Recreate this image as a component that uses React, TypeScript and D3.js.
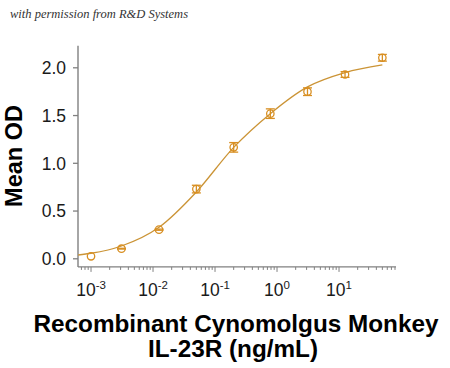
import React from "react";
import * as d3 from "d3";

// Measured data (Mean OD vs concentration, ng/mL)
const concentrations = [0.001, 0.0031, 0.0125, 0.05, 0.2, 0.78, 3.1, 12.5, 50];
const meanOD = [0.026, 0.106, 0.305, 0.73, 1.167, 1.52, 1.75, 1.93, 2.105];
const errors = [0, 0.004, 0.006, 0.04, 0.05, 0.05, 0.04, 0.03, 0.035];

// Fitted curve
const fitX = [0.00062, 0.001, 0.0031, 0.0125, 0.05, 0.2, 0.78, 3.1, 12.5, 50];
const fitY = [0.04, 0.058, 0.134, 0.33, 0.7, 1.167, 1.52, 1.8, 1.95, 2.03];

const yTicks = [0, 0.5, 1, 1.5, 2];
const yTickLabels = ["0.0", "0.5", "1.0", "1.5", "2.0"];
const xMajorExps = [-3, -2, -1, 0, 1];

const W = 450;
const H = 368;
const markerColor = "#D88F22";
const lineColor = "#CB9436";
const axisColor = "#808080";

export default function App() {
  const x = d3.scaleLog().domain([Math.pow(10, -3.21), Math.pow(10, 1.919)]).range([78, 396]);
  const y = d3.scaleLinear().domain([0, 2]).range([258.8, 67.8]);
  const axisY = y(-0.085);
  const axisTop = y(2.23);

  const line = d3
    .line<number>()
    .x((_, i) => x(fitX[i]))
    .y((d) => y(d))
    .curve(d3.curveMonotoneX);

  const [d0, d1] = x.domain();
  const minor: { v: number; major: boolean }[] = [];
  for (let e = -4; e <= 2; e++) {
    for (let m = 1; m <= 9; m++) {
      const v = m * Math.pow(10, e);
      if (v >= d0 && v <= d1) minor.push({ v, major: m === 1 });
    }
  }

  const font = "'Liberation Sans', Arial, sans-serif";

  return (
    <svg
      width={W}
      height={H}
      style={{ position: "absolute", left: 0, top: 0, background: "#fff" }}
    >
      <text
        x={10}
        y={18}
        fontFamily="'Liberation Serif', serif"
        fontStyle="italic"
        fontSize={12.5}
        fill="#333"
      >
        with permission from R&amp;D Systems
      </text>

      {/* Y axis */}
      <line x1={78} x2={78} y1={axisTop} y2={axisY} stroke={axisColor} strokeWidth={1.4} />
      {yTicks.map((t, i) => (
        <g key={t}>
          <line x1={73} x2={78} y1={y(t)} y2={y(t)} stroke={axisColor} strokeWidth={1.3} />
          <text
            x={66}
            y={y(t)}
            dy="0.36em"
            textAnchor="end"
            fontFamily={font}
            fontSize={17.5}
            fill="#1a1a1a"
          >
            {yTickLabels[i]}
          </text>
        </g>
      ))}

      {/* X axis */}
      <line x1={78} x2={396} y1={axisY} y2={axisY} stroke={axisColor} strokeWidth={1.4} />
      {minor.map((t, i) => (
        <line
          key={i}
          x1={x(t.v)}
          x2={x(t.v)}
          y1={axisY}
          y2={axisY + (t.major ? 5 : 3)}
          stroke={axisColor}
          strokeWidth={1}
        />
      ))}
      {xMajorExps.map((e) => (
        <text
          key={e}
          x={x(Math.pow(10, e))}
          y={296}
          textAnchor="middle"
          fontFamily={font}
          fontSize={17.5}
          fill="#1a1a1a"
        >
          10
          <tspan fontSize={11.5} dy={-7}>
            {e}
          </tspan>
        </text>
      ))}

      {/* Axis titles */}
      <text
        transform={`translate(22,156) rotate(-90)`}
        textAnchor="middle"
        fontFamily={font}
        fontWeight="bold"
        fontSize={23.5}
        fill="#000"
      >
        Mean OD
      </text>
      <text
        x={236}
        y={332}
        textAnchor="middle"
        fontFamily={font}
        fontWeight="bold"
        fontSize={24.3}
        fill="#000"
      >
        Recombinant Cynomolgus Monkey
      </text>
      <text
        x={233}
        y={357}
        textAnchor="middle"
        fontFamily={font}
        fontWeight="bold"
        fontSize={24.3}
        fill="#000"
      >
        IL-23R (ng/mL)
      </text>

      {/* Fit curve */}
      <path d={line(fitY) || ""} fill="none" stroke={lineColor} strokeWidth={1.3} />

      {/* Error bars and markers */}
      {concentrations.map((c, i) => {
        const cx = x(c);
        const cy = y(meanOD[i]);
        const top = y(meanOD[i] + errors[i]);
        const bot = y(meanOD[i] - errors[i]);
        return (
          <g key={i} stroke={markerColor} strokeWidth={1.3} fill="none">
            {errors[i] > 0 && (
              <>
                <line x1={cx} x2={cx} y1={top} y2={bot} />
                <line x1={cx - 4.5} x2={cx + 4.5} y1={top} y2={top} />
                <line x1={cx - 4.5} x2={cx + 4.5} y1={bot} y2={bot} />
              </>
            )}
            <circle cx={cx} cy={cy} r={3.7} />
          </g>
        );
      })}
    </svg>
  );
}
